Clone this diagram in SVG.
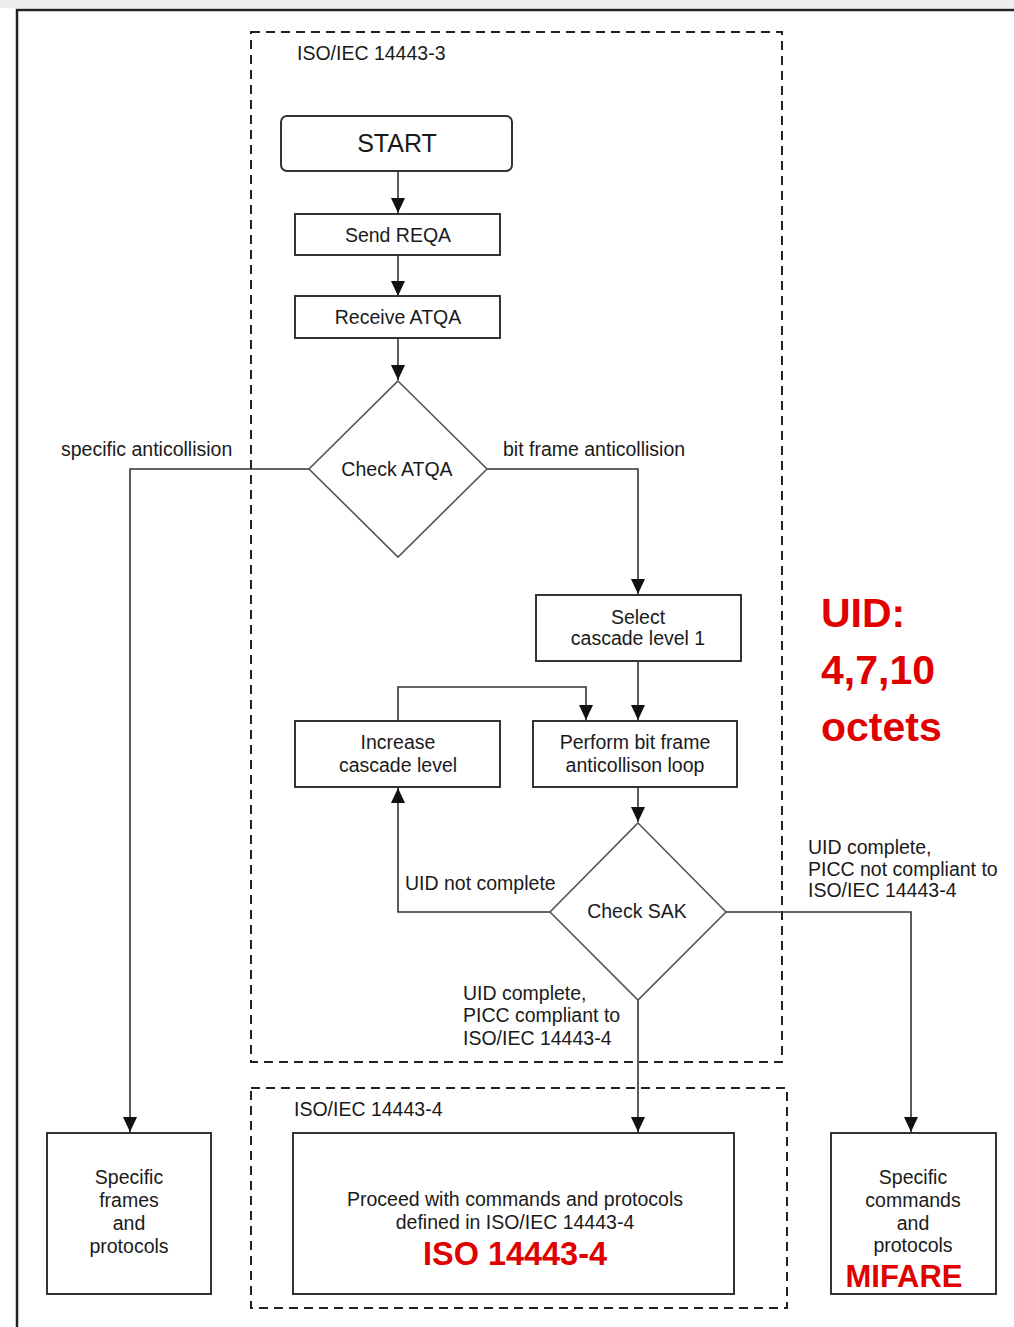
<svg xmlns="http://www.w3.org/2000/svg" width="1014" height="1327" viewBox="0 0 1014 1327">
<style>
.t{font-family:"Liberation Sans",Arial,sans-serif;font-size:19.5px;fill:#1a1a1a}
.c{text-anchor:middle}
.box{fill:#fff;stroke:#333;stroke-width:2}
.dia{fill:#fff;stroke:#555;stroke-width:1.6}
.dash{fill:none;stroke:#222;stroke-width:2;stroke-dasharray:9,6}
.ln{fill:none;stroke:#333;stroke-width:1.6}
.red{font-family:"Liberation Sans",Arial,sans-serif;font-weight:bold;fill:#e00000}
</style>
<defs>
<marker id="ah" viewBox="0 0 15 14" refX="15" refY="7" markerWidth="15" markerHeight="14" markerUnits="userSpaceOnUse" orient="auto">
<path d="M0,0 L15,7 L0,14 Z" fill="#111"/>
</marker>
</defs>
<rect x="0" y="0" width="1014" height="1327" fill="#fff"/>
<rect x="0" y="0" width="1014" height="8" fill="#eee"/>
<g id="frame">
<path d="M17,1327 L17,10 L1014,10" fill="none" stroke="#222" stroke-width="2.5"/>
</g>
<g id="zone-3">
<rect class="dash" x="251" y="32" width="531" height="1030"/>
<text class="t" x="297" y="60">ISO/IEC 14443-3</text>
</g>
<g id="zone-4">
<rect class="dash" x="251" y="1088" width="536" height="220"/>
<text class="t" x="294" y="1116">ISO/IEC 14443-4</text>
</g>
<g id="connectors">
<path class="ln" d="M398,171 L398,213" marker-end="url(#ah)"/>
<path class="ln" d="M398,255 L398,296" marker-end="url(#ah)"/>
<path class="ln" d="M398,338 L398,380" marker-end="url(#ah)"/>
<path class="ln" d="M309,469 L130,469 L130,1132" marker-end="url(#ah)"/>
<path class="ln" d="M487,469 L638,469 L638,594" marker-end="url(#ah)"/>
<path class="ln" d="M638,661 L638,720" marker-end="url(#ah)"/>
<path class="ln" d="M398,721 L398,687 L586,687 L586,720" marker-end="url(#ah)"/>
<path class="ln" d="M638,787 L638,822" marker-end="url(#ah)"/>
<path class="ln" d="M550,912 L398,912 L398,788" marker-end="url(#ah)"/>
<path class="ln" d="M726,912 L911,912 L911,1132" marker-end="url(#ah)"/>
<path class="ln" d="M638,1000 L638,1132" marker-end="url(#ah)"/>
<text class="t" x="61" y="456">specific anticollision</text>
<text class="t" x="503" y="456">bit frame anticollision</text>
<text class="t" x="405" y="890">UID not complete</text>
<text class="t" x="808" y="854">UID complete,</text>
<text class="t" x="808" y="876">PICC not compliant to</text>
<text class="t" x="808" y="897">ISO/IEC 14443-4</text>
<text class="t" x="463" y="1000">UID complete,</text>
<text class="t" x="463" y="1022">PICC compliant to</text>
<text class="t" x="463" y="1045">ISO/IEC 14443-4</text>
</g>
<g id="start">
<rect class="box" x="281" y="116" width="231" height="55" rx="6"/>
<text class="t c" x="397" y="152" style="font-size:25px">START</text>
</g>
<g id="send-reqa">
<rect class="box" x="295" y="214" width="205" height="41"/>
<text class="t c" x="398" y="242">Send REQA</text>
</g>
<g id="receive-atqa">
<rect class="box" x="295" y="296" width="205" height="42"/>
<text class="t c" x="398" y="324">Receive ATQA</text>
</g>
<g id="check-atqa">
<path class="dia" d="M398,381 L487,469 L398,557 L309,469 Z"/>
<text class="t c" x="397" y="476">Check ATQA</text>
</g>
<g id="select-cl1">
<rect class="box" x="536" y="595" width="205" height="66"/>
<text class="t c" x="638" y="624">Select</text>
<text class="t c" x="638" y="645">cascade level 1</text>
</g>
<g id="increase-cl">
<rect class="box" x="295" y="721" width="205" height="66"/>
<text class="t c" x="398" y="749">Increase</text>
<text class="t c" x="398" y="772">cascade level</text>
</g>
<g id="perform-loop">
<rect class="box" x="533" y="721" width="204" height="66"/>
<text class="t c" x="635" y="749">Perform bit frame</text>
<text class="t c" x="635" y="772">anticollison loop</text>
</g>
<g id="check-sak">
<path class="dia" d="M638,823 L726,912 L638,1000 L550,912 Z"/>
<text class="t c" x="637" y="918">Check SAK</text>
</g>
<g id="specific-frames">
<rect class="box" x="47" y="1133" width="164" height="161"/>
<text class="t c" x="129" y="1184">Specific</text>
<text class="t c" x="129" y="1207">frames</text>
<text class="t c" x="129" y="1230">and</text>
<text class="t c" x="129" y="1253">protocols</text>
</g>
<g id="proceed">
<rect class="box" x="293" y="1133" width="441" height="161"/>
<text class="t c" x="515" y="1206">Proceed with commands and protocols</text>
<text class="t c" x="515" y="1229">defined in ISO/IEC 14443-4</text>
<text class="red c" x="515" y="1265" font-size="34" textLength="184" lengthAdjust="spacingAndGlyphs">ISO 14443-4</text>
</g>
<g id="specific-commands">
<rect class="box" x="831" y="1133" width="165" height="161"/>
<text class="t c" x="913" y="1184">Specific</text>
<text class="t c" x="913" y="1207">commands</text>
<text class="t c" x="913" y="1230">and</text>
<text class="t c" x="913" y="1252">protocols</text>
<text class="red c" x="904" y="1287" font-size="31" textLength="117" lengthAdjust="spacingAndGlyphs">MIFARE</text>
</g>
<g id="uid-note">
<text class="red" x="821" y="627" font-size="41">UID:</text>
<text class="red" x="821" y="684" font-size="41">4,7,10</text>
<text class="red" x="821" y="741" font-size="41">octets</text>
</g>
</svg>
